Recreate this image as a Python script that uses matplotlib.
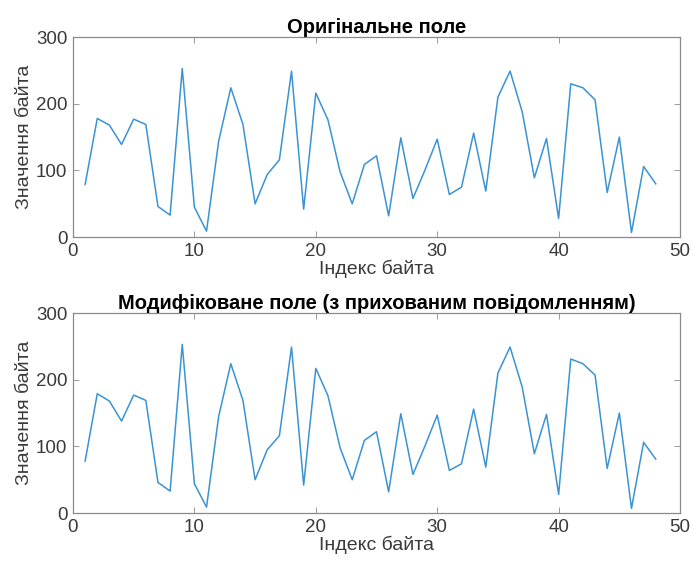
import matplotlib
matplotlib.use("Agg")
import matplotlib.pyplot as plt

plt.rcParams["font.family"] = ["Liberation Sans", "DejaVu Sans"]

byte_index = list(range(1, 49))
original = [79, 178, 168, 139, 177, 169, 46, 33, 253, 45,
            9, 144, 224, 169, 50, 94, 116, 249, 42, 216,
            176, 98, 50, 109, 122, 32, 149, 58, 101, 147,
            64, 75, 156, 69, 210, 249, 188, 89, 148, 28,
            230, 224, 206, 67, 150, 7, 106, 80]
modified = [78, 179, 168, 138, 177, 169, 46, 33, 253, 44,
            9, 145, 224, 169, 50, 95, 116, 249, 42, 217,
            176, 98, 50, 109, 122, 32, 149, 58, 101, 147,
            64, 74, 156, 69, 210, 249, 189, 89, 148, 28,
            231, 224, 207, 67, 150, 7, 106, 81]

titles = ["Оригінальне поле", "Модифіковане поле (з прихованим повідомленням)"]
x_label = "Індекс байта"
y_label = "Значення байта"

fig = plt.figure(figsize=(6.93, 5.62), dpi=100)
positions = [[0.1053, 0.578, 0.876, 0.356], [0.1053, 0.087, 0.876, 0.356]]

for pos, values, title in zip(positions, [original, modified], titles):
    ax = fig.add_axes(pos)
    ax.plot(byte_index, values, color="#3a93d3", lw=1.1)
    ax.set_xlim(0, 50)
    ax.set_ylim(0, 300)
    ax.set_xticks([0, 10, 20, 30, 40, 50])
    ax.set_yticks([0, 100, 200, 300])
    ax.tick_params(direction="in", top=True, right=True, labelsize=13.5,
                   color="#8a8a8a", labelcolor="#3a3a3a", length=4, width=0.6)
    ax.tick_params(axis="x", pad=4)
    ax.tick_params(axis="y", pad=4)
    for s in ax.spines.values():
        s.set_color("#8a8a8a")
        s.set_linewidth(0.9)
    ax.set_title(title, fontsize=14.5, fontweight="bold", pad=3)
    ax.set_xlabel(x_label, fontsize=14, color="#3a3a3a", labelpad=0)
    ax.set_ylabel(y_label, fontsize=14, color="#3a3a3a", labelpad=2)

fig.savefig("out.png", dpi=100)
